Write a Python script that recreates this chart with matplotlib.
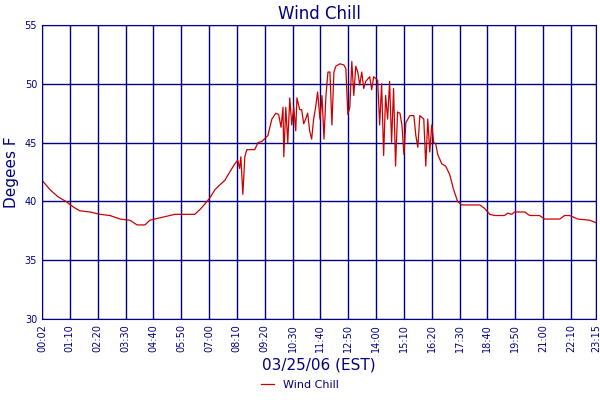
import matplotlib
matplotlib.use("Agg")
import matplotlib.pyplot as plt

minutes = [0,20,40,60,80,95,121,146,171,196,221,239,259,271,296,334,372,384,397,410,422,435,447,460,472,485,492,497,500,505,510,515,535,543,553,568,578,588,595,601,606,608,613,618,623,628,633,638,641,648,653,658,663,668,673,678,683,688,693,699,704,709,714,719,724,729,734,739,749,759,764,769,774,779,784,789,794,799,804,809,814,824,829,834,844,849,854,859,864,869,874,879,884,889,894,900,905,910,915,925,935,940,945,950,960,965,970,975,980,985,990,995,1005,1015,1025,1035,1045,1055,1075,1101,1113,1126,1138,1163,1171,1181,1188,1214,1226,1251,1264,1302,1314,1327,1347,1377,1392]
wind_chill = [41.8,41.0,40.4,40.0,39.5,39.2,39.1,38.9,38.8,38.5,38.4,38.0,38.0,38.4,38.6,38.9,38.9,38.9,39.3,39.8,40.3,41.0,41.4,41.8,42.5,43.2,43.5,42.8,43.8,40.6,43.8,44.4,44.4,45.0,45.1,45.6,47.0,47.5,47.4,46.3,48.0,43.8,48.0,45.0,48.8,46.5,48.0,46.0,48.8,47.8,47.8,46.6,47.0,47.5,46.0,45.3,47.0,48.0,49.3,47.0,49.0,45.3,49.0,51.0,51.0,46.5,51.0,51.5,51.7,51.6,51.3,47.4,48.0,51.9,49.0,51.5,51.0,49.9,51.0,49.6,50.2,50.6,49.5,50.6,50.3,46.5,50.0,43.9,49.0,47.0,50.2,45.0,49.6,43.0,47.6,47.5,46.5,44.0,46.7,47.3,47.3,45.6,44.6,47.3,47.0,43.0,47.0,44.2,46.5,45.0,44.9,44.0,43.2,43.0,42.3,41.0,40.0,39.7,39.7,39.7,39.4,38.9,38.8,38.8,39.0,38.9,39.1,39.1,38.8,38.8,38.5,38.5,38.8,38.8,38.5,38.4,38.2]
tick_labels = ["00:02","01:10","02:20","03:30","04:40","05:50","07:00","08:10","09:20","10:30","11:40","12:50","14:00","15:10","16:20","17:30","18:40","19:50","21:00","22:10","23:15"]
tick_pos = [i*70 for i in range(20)] + [1393]

navy = "#000080"
fig = plt.figure(figsize=(6,4), dpi=100)
ax = fig.add_axes([42/600, 1-319/400, 554/600, 294/400])
ax.plot(minutes, wind_chill, color="#cc0000", lw=0.9, label="Wind Chill")
ax.set_xlim(0, 1393)
ax.set_ylim(30, 55)
ax.set_yticks([30,35,40,45,50,55])
ax.set_xticks(tick_pos)
ax.set_xticklabels(tick_labels, rotation=90, fontsize=7, color=navy)
ax.tick_params(axis="y", labelsize=7, colors=navy, length=0)
ax.tick_params(axis="x", length=0, colors=navy)
ax.grid(True, color=navy, lw=1)
for s in ax.spines.values():
    s.set_color(navy)
ax.set_title("Wind Chill", color=navy, fontsize=12, pad=4)
ax.set_ylabel("Degees F", color=navy, fontsize=11)
ax.set_xlabel("03/25/06 (EST)", color=navy, fontsize=11)
leg = fig.legend(loc="lower center", bbox_to_anchor=(0.5, 0.0), frameon=False, fontsize=8, handlelength=1.2)
for t in leg.get_texts():
    t.set_color(navy)
fig.savefig("out.png", dpi=100)
